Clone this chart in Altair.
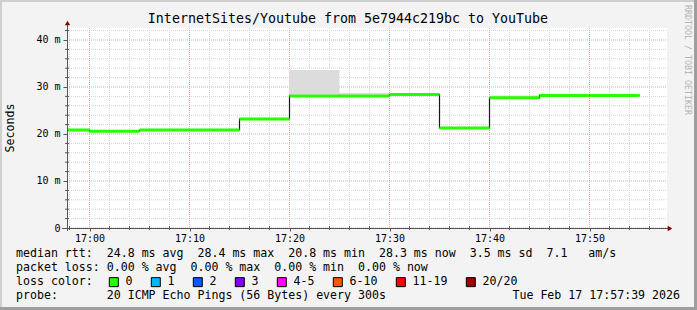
import altair as alt
import pandas as pd

# ---------------- data ----------------
seg_start = ["16:55", "17:00", "17:05", "17:10", "17:15", "17:20",
             "17:25", "17:30", "17:35", "17:40", "17:45", "17:50"]
seg_end = ["17:00", "17:05", "17:10", "17:15", "17:20", "17:25",
           "17:30", "17:35", "17:40", "17:45", "17:50", "17:55"]
median_ms = [20.85, 20.6, 20.85, 20.85, 23.2, 28.1,
             28.1, 28.4, 21.3, 27.7, 28.2, 28.2]
smoke_hi_ms = [20.9, 20.7, 20.9, 20.9, 23.3, 33.6,
               28.7, 28.5, 21.4, 28.2, 28.3, 28.3]

loss_labels = ["0", "1", "2", "3", "4-5", "6-10", "11-19", "20/20"]
loss_colors = ["#26ff00", "#00b8ff", "#0059ff", "#7e00ff",
               "#ff00ff", "#ff5500", "#ff0000", "#a10000"]

x_major_ticks = ["17:00", "17:10", "17:20", "17:30", "17:40", "17:50"]
x_minor_ticks = ["16:58", "17:02", "17:04", "17:06", "17:08", "17:12", "17:14",
                 "17:16", "17:18", "17:22", "17:24", "17:26", "17:28", "17:32",
                 "17:34", "17:36", "17:38", "17:42", "17:44", "17:46", "17:48",
                 "17:52", "17:54", "17:56"]
y_major_ticks = [0, 10, 20, 30, 40]
y_minor_ticks = [2, 4, 6, 8, 12, 14, 16, 18, 22, 24, 26, 28, 32, 34, 36, 38, 42]

title_text = "InternetSites/Youtube from 5e7944c219bc to YouTube"
y_title = "Seconds"
side_text = "RRDTOOL / TOBI OETIKER"
legend_lines = [
    "median rtt:  24.8 ms avg  28.4 ms max  20.8 ms min  28.3 ms now  3.5 ms sd  7.1   am/s",
    "packet loss: 0.00 % avg  0.00 % max  0.00 % min  0.00 % now",
    "loss color:",
    "probe:       20 ICMP Echo Pings (56 Bytes) every 300s",
]
stamp_text = "Tue Feb 17 17:57:39 2026"

DAY = "2026-02-17T"
FONT = "DejaVu Sans Mono"


def nb(s):
    return s.replace(" ", "\u00a0")


def ts(t):
    return DAY + t + ":00"


seg = pd.DataFrame({
    "start": [ts(t) for t in seg_start],
    "end": [ts(t) for t in seg_end],
    "median": median_ms,
    "hi": smoke_hi_ms,
})
line_df = pd.DataFrame({
    "start": [ts(t) for t in seg_start + [seg_end[-1]]],
    "median": median_ms + [median_ms[-1]],
})
leg_df = pd.DataFrame({"loss": loss_labels})
xmaj_df = pd.DataFrame({"start": [ts(t) for t in x_major_ticks]})
xmin_df = pd.DataFrame({"start": [ts(t) for t in x_minor_ticks]})
ymaj_df = pd.DataFrame({"median": y_major_ticks})
ymin_df = pd.DataFrame({"median": y_minor_ticks})

# ---------------- scales / axes ----------------
x_dom = [alt.DateTime(year=2026, month=2, date=17, hours=16, minutes=57, seconds=45),
         alt.DateTime(year=2026, month=2, date=17, hours=17, minutes=57, seconds=45)]
x_vals = [alt.DateTime(year=2026, month=2, date=17, hours=17, minutes=int(t[3:]))
          for t in x_major_ticks]

x_scale = alt.Scale(domain=x_dom, nice=False)
y_scale = alt.Scale(domain=[0, 42.55], nice=False, zero=True)

x_axis = alt.Axis(
    values=x_vals, format="%H:%M", grid=False, domain=False,
    tickSize=3, tickColor="#555555",
    labelFont=FONT, labelFontSize=10, labelColor="black", labelPadding=2,
    labelFlush=False, labelOverlap=False, title=None,
)
y_axis = alt.Axis(
    values=y_major_ticks,
    labelExpr="datum.value == 0 ? '0' : datum.value + ' m'",
    grid=False, domain=False,
    tickSize=4, tickColor="#555555",
    labelFont=FONT, labelFontSize=10, labelColor="black", labelPadding=3,
    labelFlush=False, labelOverlap=False, title=None,
)

X = alt.X("start:T", scale=x_scale, axis=x_axis)
Y = alt.Y("median:Q", scale=y_scale, axis=y_axis)

# ---------------- grid ----------------
MINOR = "#d4d4d4"
MAJOR = "#eca3a3"
gx_minor = alt.Chart(xmin_df).mark_rule(color=MINOR, strokeDash=[1, 1], strokeWidth=1).encode(
    x=X, y=alt.value(0), y2=alt.value(200))
gy_minor = alt.Chart(ymin_df).mark_rule(color=MINOR, strokeDash=[1, 1], strokeWidth=1).encode(
    y=Y, x=alt.value(0), x2=alt.value(600))
gx_major = alt.Chart(xmaj_df).mark_rule(color=MAJOR, strokeDash=[1, 1], strokeWidth=1).encode(
    x=X, y=alt.value(0), y2=alt.value(200))
gy_major = alt.Chart(ymaj_df).mark_rule(color=MAJOR, strokeDash=[1, 1], strokeWidth=1).encode(
    y=Y, x=alt.value(0), x2=alt.value(600))
y_minor_tick = alt.Chart(ymin_df).mark_rule(color="#555555", strokeWidth=1).encode(
    y=Y, x=alt.value(-2), x2=alt.value(2))
x_minor_tick = alt.Chart(xmin_df).mark_rule(color="#555555", strokeWidth=1).encode(
    x=X, y=alt.value(198), y2=alt.value(202))

# ---------------- data layers ----------------
smoke = alt.Chart(seg).mark_rect(color="#dcdcdc", clip=True).encode(
    x=X, x2="end:T", y=Y, y2="hi:Q")
step = alt.Chart(line_df).mark_line(interpolate="step-after", color="#1a1a1a",
                                    strokeWidth=1.2, clip=True).encode(x=X, y=Y)
green = alt.Chart(seg).mark_rule(color=loss_colors[0], strokeWidth=3, clip=True).encode(
    x=X, x2="end:T", y=Y)
legend_layer = alt.Chart(leg_df).mark_square(size=0, filled=True, opacity=1,
                                            stroke="black", strokeWidth=1).encode(
    x=alt.value(0), y=alt.value(0),
    color=alt.Color("loss:N", scale=alt.Scale(domain=loss_labels, range=loss_colors),
                    legend=alt.Legend(orient="none", legendX=41, legendY=248,
                                      direction="horizontal", columns=8, title=None,
                                      symbolType="square", symbolSize=81,
                                      symbolStrokeColor="black", symbolStrokeWidth=1,
                                      symbolOpacity=1, labelFont=FONT, labelFontSize=11.6,
                                      labelColor="black", labelOffset=6, columnPadding=16,
                                      padding=0, labelLimit=200)),
)

one = alt.Data(values=[{}])


def deco_rect(x, x2, y, y2, color):
    return alt.Chart(one).mark_rect(color=color).encode(
        x=alt.value(x), x2=alt.value(x2), y=alt.value(y), y2=alt.value(y2))


def deco_text(txt, x, y, size, color="black", align="left", angle=0, baseline="middle"):
    return alt.Chart(one).mark_text(text=txt, font=FONT, fontSize=size, color=color,
                                    align=align, baseline=baseline, angle=angle).encode(
        x=alt.value(x), y=alt.value(y))


frame = [
    deco_rect(-67, -65, -28, 282, "#cfcfcf"),
    deco_rect(-67, 630, -28, -26, "#cfcfcf"),
    deco_rect(627, 630, -28, 282, "#9e9e9e"),
    deco_rect(-67, 630, 279, 282, "#9e9e9e"),
]

axes_lines = [
    alt.Chart(one).mark_rule(color="#555555", strokeWidth=1).encode(
        x=alt.value(0.5), y=alt.value(-4), y2=alt.value(203)),
    alt.Chart(one).mark_rule(color="#555555", strokeWidth=1).encode(
        x=alt.value(-5), x2=alt.value(602), y=alt.value(200.5)),
    alt.Chart(one).mark_point(shape="triangle-up", filled=True, opacity=1,
                              color="#8b0000", size=28).encode(
        x=alt.value(0.5), y=alt.value(-5)),
    alt.Chart(one).mark_point(shape="triangle-right", filled=True, opacity=1,
                              color="#8b0000", size=28).encode(
        x=alt.value(603), y=alt.value(200.5)),
]

texts = [
    deco_text(title_text, 281, -9, 13.3, align="center"),
    deco_text(y_title, -56, 100, 11.6, angle=270, align="center"),
    deco_text(side_text, 620, 32, 8.3, color="#b4b4b4", angle=90, align="center"),
    deco_text(nb(legend_lines[0]), -51, 226, 11.6),
    deco_text(nb(legend_lines[1]), -51, 240, 11.6),
    deco_text(nb(legend_lines[2]), -51, 254, 11.6),
    deco_text(nb(legend_lines[3]), -51, 268, 11.6),
    deco_text(nb(stamp_text), 613, 268, 11.6, align="right"),
]

chart = alt.layer(
    gx_minor, gy_minor, gx_major, gy_major, smoke, step, green,
    y_minor_tick, x_minor_tick, legend_layer, *frame, *axes_lines, *texts
).properties(
    width=600, height=200,
    autosize="none",
    padding={"left": 67, "top": 28, "right": 30, "bottom": 82},
    background="#f3f3f3",
).configure_view(fill="white", strokeWidth=0)

chart.save("out.html", embed_options={"renderer": "svg", "actions": False})
